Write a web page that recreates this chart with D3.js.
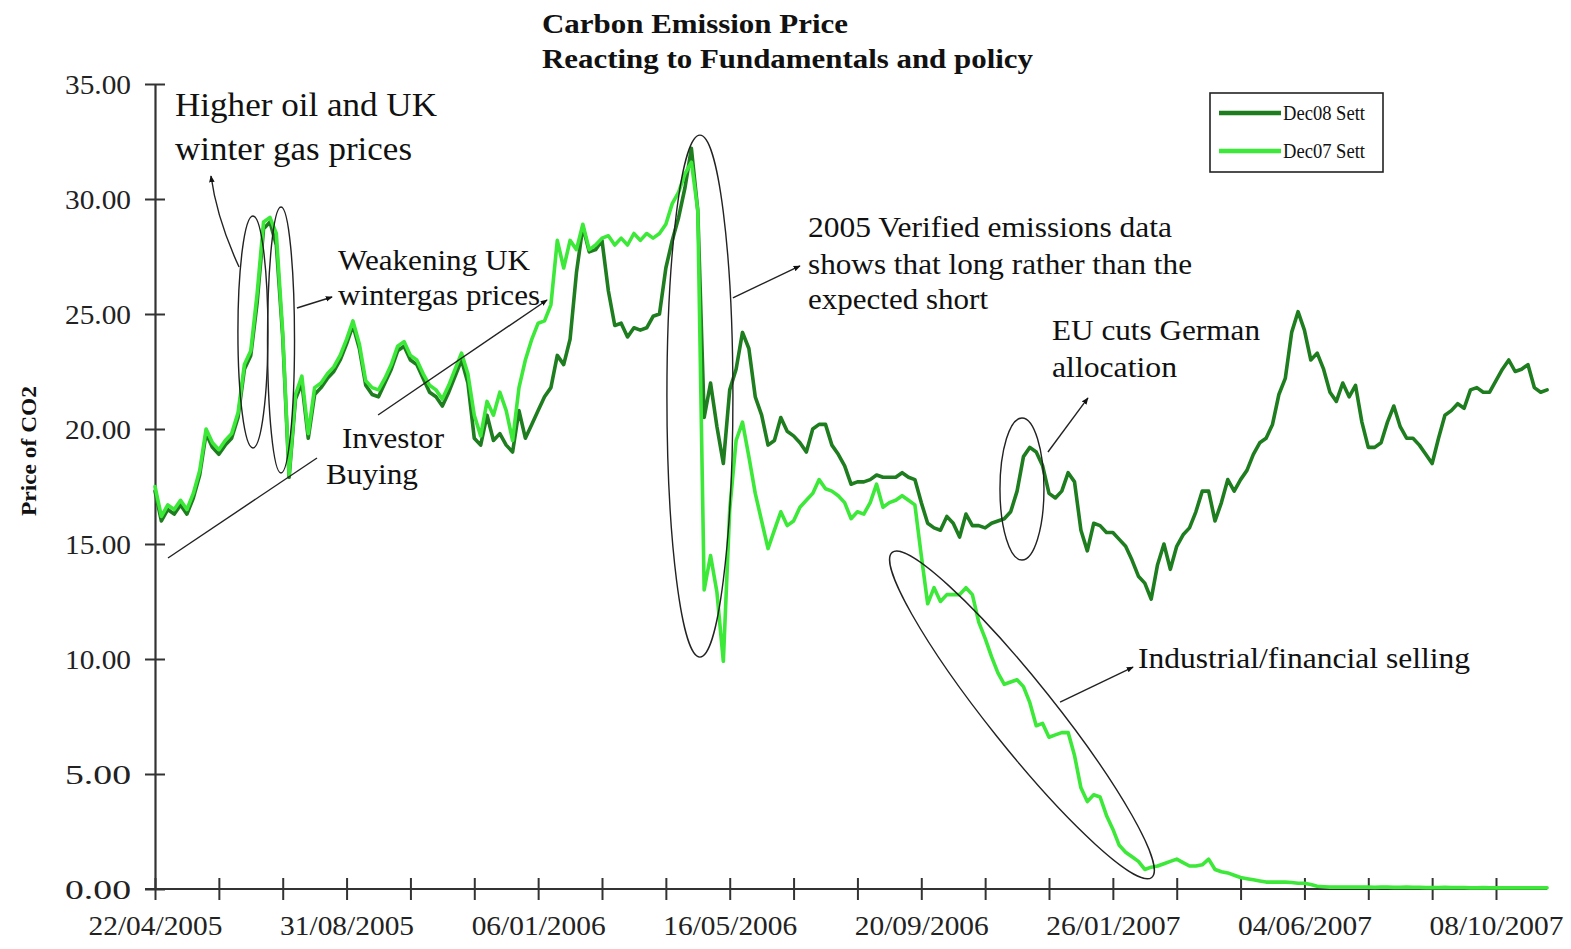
<!DOCTYPE html>
<html><head><meta charset="utf-8">
<script src="https://cdn.jsdelivr.net/npm/d3@7"></script>
<style>body{margin:0;background:#fff}svg{display:block}</style>
</head><body>
<svg id="c" width="1571" height="949"></svg>
<script>
// Series values: one reading every 3 trading days, starting 22/04/2005
const dec08 = [
17.3,16.0,16.5,16.3,16.7,16.3,17.0,18.0,19.8,19.2,
18.9,19.3,19.6,20.5,22.6,23.2,25.5,28.7,29.0,28.0,
24.0,17.9,21.3,22.0,19.6,21.5,21.8,22.2,22.5,23.0,
23.7,24.5,23.5,21.9,21.5,21.4,22.0,22.6,23.4,23.6,
23.0,22.8,22.2,21.6,21.4,21.0,21.6,22.3,23.0,22.0,
19.6,19.3,20.6,19.5,19.8,19.3,19.0,20.8,19.6,20.2,
20.8,21.4,21.8,23.2,22.8,23.9,26.8,28.8,27.7,27.8,
28.2,26.0,24.5,24.6,24.0,24.4,24.3,24.4,24.9,25.0,
27.0,28.2,29.2,30.5,32.2,29.5,20.5,22.0,20.1,18.5,
21.7,22.6,24.2,23.5,21.4,20.6,19.3,19.5,20.5,19.9,
19.7,19.4,19.0,20.0,20.2,20.2,19.3,18.9,18.4,17.6,
17.7,17.7,17.8,18.0,17.9,17.9,17.9,18.1,17.9,17.8,
16.8,15.9,15.7,15.6,16.2,15.9,15.3,16.3,15.8,15.8,
15.7,15.9,16.0,16.1,16.4,17.3,18.8,19.2,19.0,18.4,
17.2,17.0,17.3,18.1,17.7,15.6,14.7,15.9,15.8,15.5,
15.5,15.2,14.9,14.3,13.6,13.3,12.6,14.1,15.0,13.9,
14.9,15.4,15.7,16.4,17.3,17.3,16.0,16.8,17.8,17.3,
17.8,18.2,18.9,19.4,19.6,20.2,21.5,22.2,24.2,25.1,
24.3,23.0,23.3,22.6,21.6,21.2,22.0,21.4,21.9,20.3,
19.2,19.2,19.4,20.3,21.0,20.1,19.6,19.6,19.3,18.9,
18.5,19.6,20.6,20.8,21.1,20.9,21.7,21.8,21.6,21.6,
22.1,22.6,23.0,22.5,22.6,22.8,21.8,21.6,21.7
];
const dec07 = [
17.5,16.2,16.7,16.5,16.9,16.5,17.2,18.2,20.0,19.4,
19.1,19.5,19.8,20.7,22.8,23.4,25.9,29.0,29.2,28.5,
24.2,18.0,21.5,22.3,19.8,21.8,22.0,22.4,22.7,23.2,
23.9,24.7,23.7,22.1,21.8,21.7,22.2,22.8,23.6,23.8,
23.2,23.0,22.4,21.9,21.7,21.3,21.9,22.6,23.3,22.4,
20.6,19.7,21.2,20.6,21.6,20.8,19.5,21.8,23.0,23.9,
24.6,24.7,25.4,28.2,27.0,28.2,27.8,28.9,27.8,28.0,
28.3,28.4,28.0,28.3,28.0,28.5,28.2,28.5,28.3,28.5,
28.9,29.8,30.3,31.1,31.6,29.5,13.0,14.5,12.9,9.9,
16.5,19.5,20.3,18.8,17.2,16.0,14.8,15.6,16.4,15.8,
16.0,16.6,16.9,17.2,17.8,17.4,17.3,17.1,16.8,16.1,
16.4,16.3,16.8,17.6,16.6,16.8,16.9,17.1,16.9,16.7,
14.5,12.4,13.1,12.5,12.8,12.8,12.8,13.1,12.8,11.6,
10.9,10.1,9.4,8.9,9.0,9.1,8.8,8.1,7.1,7.2,
6.6,6.7,6.8,6.8,5.8,4.4,3.8,4.1,4.0,3.2,
2.6,1.9,1.6,1.4,1.2,0.85,0.95,1.0,1.1,1.2,
1.3,1.15,1.0,1.0,1.05,1.3,0.85,0.75,0.7,0.6,
0.5,0.45,0.4,0.35,0.3,0.3,0.3,0.3,0.28,0.25,
0.25,0.2,0.12,0.1,0.08,0.08,0.08,0.09,0.08,0.08,
0.08,0.07,0.08,0.08,0.07,0.07,0.08,0.07,0.07,0.06,
0.06,0.06,0.07,0.06,0.06,0.06,0.05,0.05,0.06,0.05,
0.05,0.05,0.05,0.05,0.05,0.05,0.05,0.05,0.05
];
const stepDays = 3;             // trading days between readings
const tickEveryDays = 30;       // minor category ticks
const labelEveryDays = 90;      // labelled ticks
const xLabels = ["22/04/2005","31/08/2005","06/01/2006","16/05/2006","20/09/2006","26/01/2007","04/06/2007","08/10/2007"];
const yTicks = [0,5,10,15,20,25,30,35];
const seriesNames = ["Dec08 Sett","Dec07 Sett"];
const seriesColors = ["#1e7d1e","#3ce838"];

// annotation geometry in data units [tradingDay, price]
const ellipses = [
  {c:[46.0,24.22], rx:15, ry:116, rot:0},
  {c:[59.2,23.87], rx:13.5, ry:133, rot:0},
  {c:[256.0,21.43], rx:33, ry:261, rot:0},
  {c:[407.3,17.39], rx:22, ry:71, rot:0},
  {c:[407.3,7.57], rx:208, ry:33, rot:51.4}
];
const arrows = [
  {pts:[[39.5,27.04],[29.1,29.13],[26.3,31.0]], head:true, curve:true},
  {pts:[[66.7,25.26],[83.2,25.74]], head:true},
  {pts:[[6.1,14.39],[76.1,18.74]], head:false},
  {pts:[[104.8,20.61],[184.2,25.61]], head:true},
  {pts:[[271.5,25.70],[303.0,27.09]], head:true},
  {pts:[[419.5,19.0],[438.3,21.35]], head:true},
  {pts:[[425.2,8.13],[459.5,9.65]], head:true}
];

const svg = d3.select("#c");
const x = d3.scaleLinear().domain([0, 630]).range([155, 1496]);
const y = d3.scaleLinear().domain([0, 35]).range([889, 84]);
const serif = "'Liberation Serif','Times New Roman',serif";
const axisColor = "#333";

function txt(g, s, px, py, size, len, opts={}) {
  const t = g.append("text").attr("x", px).attr("y", py)
    .attr("font-family", serif).attr("font-size", size)
    .attr("fill", opts.fill || "#111")
    .attr("font-weight", opts.bold ? "bold" : "normal")
    .attr("text-anchor", opts.anchor || "start")
    .text(s);
  if (len) t.attr("textLength", len).attr("lengthAdjust", "spacingAndGlyphs");
  if (opts.transform) t.attr("transform", opts.transform);
  return t;
}

// title
txt(svg, "Carbon Emission Price", 542, 33, 28, 306, {bold:true});
txt(svg, "Reacting to Fundamentals and policy", 542, 68, 28, 491, {bold:true});

// y axis
const yAxisL = d3.axisLeft(y).tickValues(yTicks).tickSizeInner(10).tickSizeOuter(0)
  .tickPadding(14).tickFormat(d3.format(".2f"));
const gyL = svg.append("g").attr("transform", `translate(${x(0)},0)`).call(yAxisL);
gyL.select(".domain").attr("stroke", axisColor).attr("stroke-width", 2.2);
gyL.selectAll(".tick line").attr("stroke", axisColor).attr("stroke-width", 2);
gyL.selectAll(".tick text").attr("font-family", serif).attr("font-size", 28).attr("fill", "#222")
  .attr("textLength", 66).attr("lengthAdjust","spacingAndGlyphs").attr("dy", "0.34em");
const gyR = svg.append("g").attr("transform", `translate(${x(0)},0)`)
  .call(d3.axisRight(y).tickValues(yTicks).tickSizeInner(10).tickSizeOuter(0).tickFormat(""));
gyR.select(".domain").remove();
gyR.selectAll(".tick line").attr("stroke", axisColor).attr("stroke-width", 2);

// x axis
const lastDay = (dec08.length - 1) * stepDays;
svg.append("line").attr("x1", x(0) - 10).attr("x2", x(lastDay))
  .attr("y1", y(0)).attr("y2", y(0)).attr("stroke", axisColor).attr("stroke-width", 2.2);
const xTickVals = d3.range(0, 630 + 1, tickEveryDays);
const xFmt = d => (d % labelEveryDays === 0) ? xLabels[d / labelEveryDays] : "";
const gxB = svg.append("g").attr("transform", `translate(0,${y(0)})`)
  .call(d3.axisBottom(x).tickValues(xTickVals).tickSizeInner(11).tickSizeOuter(0).tickPadding(16).tickFormat(xFmt));
gxB.select(".domain").remove();
gxB.selectAll(".tick line").attr("stroke", axisColor).attr("stroke-width", 2);
gxB.selectAll(".tick text").attr("font-family", serif).attr("font-size", 27).attr("fill", "#222")
  .each(function(){ if (this.textContent) d3.select(this).attr("textLength", 134).attr("lengthAdjust","spacingAndGlyphs"); });
const gxT = svg.append("g").attr("transform", `translate(0,${y(0)})`)
  .call(d3.axisTop(x).tickValues(xTickVals).tickSizeInner(11).tickSizeOuter(0).tickFormat(""));
gxT.select(".domain").remove();
gxT.selectAll(".tick line").attr("stroke", axisColor).attr("stroke-width", 2);

// y label
txt(svg, "Price of CO2", 0, 0, 20, 130, {bold:true, anchor:"middle", transform:"translate(36,451) rotate(-90)"});

// lines
const line = d3.line().x((d, i) => x(i * stepDays)).y(d => y(d));
[dec08, dec07].forEach((s, k) => {
  svg.append("path").datum(s).attr("d", line).attr("fill", "none")
    .attr("stroke", seriesColors[k]).attr("stroke-width", 3.6)
    .attr("stroke-linejoin", "round").attr("stroke-linecap", "round");
});

// arrowhead marker
svg.append("defs").append("marker").attr("id", "ah").attr("viewBox", "0 0 10 10")
  .attr("refX", 9).attr("refY", 5).attr("markerWidth", 7).attr("markerHeight", 7)
  .attr("markerUnits", "userSpaceOnUse").attr("orient", "auto")
  .append("path").attr("d", "M0,1 L10,5 L0,9 z").attr("fill", "#111");

// ellipses & arrows
const ga = svg.append("g").attr("fill", "none").attr("stroke", "#222").attr("stroke-width", 1.4);
ellipses.forEach(e => {
  ga.append("ellipse").attr("cx", 0).attr("cy", 0).attr("rx", e.rx).attr("ry", e.ry)
    .attr("transform", `translate(${x(e.c[0])},${y(e.c[1])}) rotate(${e.rot})`);
});
arrows.forEach(a => {
  const p = a.pts.map(d => [x(d[0]), y(d[1])]);
  const d = a.curve ? `M${p[0]}Q${p[1]} ${p[2]}` : `M${p[0]}L${p[1]}`;
  const path = ga.append("path").attr("d", d);
  if (a.head) path.attr("marker-end", "url(#ah)");
});

// annotation text
const gt = svg.append("g");
txt(gt, "Higher oil and UK", 175, 116, 34, 262);
txt(gt, "winter gas prices", 175, 160, 34, 237);
txt(gt, "Weakening UK", 338, 270, 29, 192);
txt(gt, "wintergas prices", 338, 305, 29, 202);
txt(gt, "Investor", 342, 448, 29, 102);
txt(gt, "Buying", 326, 484, 29, 92);
txt(gt, "2005 Verified emissions data", 808, 237, 29, 364);
txt(gt, "shows that long rather than the", 808, 274, 29, 384);
txt(gt, "expected short", 808, 309, 29, 180);
txt(gt, "EU cuts German", 1052, 340, 29, 208);
txt(gt, "allocation", 1052, 377, 29, 125);
txt(gt, "Industrial/financial selling", 1138, 668, 29, 332);

// legend
const lg = svg.append("g");
lg.append("rect").attr("x", 1210).attr("y", 93).attr("width", 173).attr("height", 79)
  .attr("fill", "#fff").attr("stroke", "#222").attr("stroke-width", 1.6);
seriesNames.forEach((n, k) => {
  const yy = 113 + k * 38;
  lg.append("line").attr("x1", 1219).attr("x2", 1281).attr("y1", yy).attr("y2", yy)
    .attr("stroke", seriesColors[k]).attr("stroke-width", 4.5);
  txt(lg, n, 1283, yy + 7, 21, 82);
});
</script>
</body></html>
